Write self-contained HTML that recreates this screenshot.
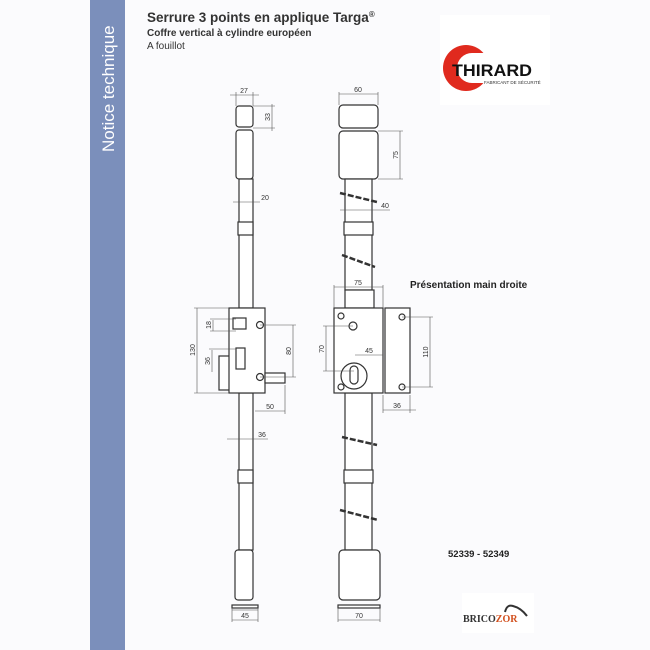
<!DOCTYPE html>
<html><head><meta charset="utf-8"><style>
html,body{margin:0;padding:0;background:#fbfbfd;}
body{width:650px;height:650px;overflow:hidden;position:relative;font-family:"Liberation Sans",sans-serif;}
</style></head><body>
<svg width="650" height="650" viewBox="0 0 650 650" xmlns="http://www.w3.org/2000/svg" style="position:absolute;left:0;top:0">
<rect x="0" y="0" width="650" height="650" fill="#fbfbfd"/>
<rect x="90" y="0" width="35" height="650" fill="#7b8fbb"/>
<text transform="translate(114,152) rotate(-90)" font-size="17" fill="#fff" font-family="Liberation Sans,sans-serif">Notice technique</text>
<text x="147" y="22" font-size="13.5" font-weight="bold" fill="#333">Serrure 3 points en applique Targa<tspan font-size="8" dy="-5">®</tspan></text>
<text x="147" y="36" font-size="10" font-weight="bold" fill="#333">Coffre vertical à cylindre européen</text>
<text x="147" y="49" font-size="10" fill="#333">A fouillot</text>
<!-- Thirard logo -->
<rect x="440" y="15" width="110" height="90" fill="#fff"/>
<circle cx="466" cy="68" r="23" fill="#e02a1e"/>
<circle cx="472" cy="68" r="15" fill="#fff"/>
<rect x="472" y="53" width="60" height="30" fill="#fff"/>
<text x="452" y="76" font-size="17" font-weight="bold" fill="#111" textLength="80" lengthAdjust="spacingAndGlyphs">THIRARD</text>
<text x="484" y="84" font-size="4.5" fill="#333">FABRICANT DE SÉCURITÉ</text>
<text x="410" y="288" font-size="10" font-weight="bold" fill="#222">Présentation main droite</text>
<text x="448" y="557" font-size="9.5" font-weight="bold" fill="#222">52339 - 52349</text>
<rect x="462" y="593" width="72" height="40" fill="#fff"/>
<text x="463" y="622" font-size="10" font-weight="bold" fill="#333" font-family="Liberation Serif,serif">BRICO<tspan fill="#d2501e">ZOR</tspan></text>
<path d="M505 612 q2-8 8-6 q8 2 14 10" stroke="#333" stroke-width="2" fill="none"/>

<g stroke="#333" stroke-width="1.2" fill="#fff">
<!-- LEFT VIEW -->
<rect x="236" y="106" width="17" height="21" rx="3"/>
<rect x="236" y="130" width="17" height="49" rx="3"/>
<rect x="239" y="179" width="14" height="129"/>
<rect x="238" y="222" width="15" height="13"/>
<rect x="239" y="393" width="14" height="157"/>
<rect x="238" y="470" width="15" height="13"/>
<rect x="235" y="550" width="18" height="50" rx="3"/>
<rect x="232" y="605" width="26" height="3"/>
<rect x="219" y="356" width="12" height="34"/>
<rect x="229" y="308" width="36" height="85"/>
<rect x="233" y="318" width="13" height="11"/>
<rect x="236" y="348" width="9" height="21"/>
<rect x="265" y="373" width="20" height="10"/>
<circle cx="260" cy="325" r="3.5"/><circle cx="260" cy="377" r="3.5"/>
<!-- RIGHT VIEW -->
<rect x="339" y="105" width="39" height="23" rx="4"/>
<rect x="339" y="131" width="39" height="48" rx="4"/>
<rect x="345" y="179" width="27" height="111"/>
<rect x="344" y="222" width="29" height="13"/>
<rect x="345" y="290" width="29" height="18"/>
<rect x="345" y="393" width="27" height="157"/>
<rect x="344" y="470" width="29" height="13"/>
<rect x="339" y="550" width="41" height="50" rx="4"/>
<rect x="338" y="605" width="42" height="3"/>
<rect x="334" y="308" width="49" height="85"/>
<rect x="385" y="308" width="25" height="85"/>
<circle cx="341" cy="316" r="3"/><circle cx="341" cy="387" r="3"/>
<circle cx="402" cy="317" r="3"/><circle cx="402" cy="387" r="3"/>
<circle cx="353" cy="326" r="4"/>
<circle cx="354" cy="376" r="13"/>
<rect x="350" y="366" width="8" height="18" rx="4"/>
</g>
<g stroke="#333" stroke-width="2.5" stroke-dasharray="6 2">
<line x1="340" y1="193" x2="377" y2="202"/>
<line x1="342" y1="255" x2="375" y2="267"/>
<line x1="342" y1="437" x2="377" y2="445"/>
<line x1="340" y1="510" x2="378" y2="520"/>
</g>
<!-- dimension lines -->
<g stroke="#555" stroke-width="0.6" fill="none">
<line x1="230" y1="95" x2="259" y2="95"/><line x1="236" y1="92" x2="236" y2="106"/><line x1="253" y1="92" x2="253" y2="106"/>
<line x1="272" y1="104" x2="272" y2="131"/><line x1="253" y1="106" x2="275" y2="106"/><line x1="253" y1="128" x2="275" y2="128"/>
<line x1="233" y1="202" x2="260" y2="202"/>
<line x1="339" y1="94" x2="378" y2="94"/><line x1="339" y1="92" x2="339" y2="105"/><line x1="378" y1="92" x2="378" y2="105"/>
<line x1="400" y1="131" x2="400" y2="179"/><line x1="378" y1="131" x2="403" y2="131"/><line x1="378" y1="179" x2="403" y2="179"/>
<line x1="340" y1="210" x2="390" y2="210"/>
<line x1="334" y1="287" x2="383" y2="287"/><line x1="334" y1="285" x2="334" y2="308"/><line x1="383" y1="285" x2="383" y2="308"/>
<line x1="197" y1="308" x2="197" y2="393"/><line x1="194" y1="308" x2="229" y2="308"/><line x1="194" y1="393" x2="229" y2="393"/>
<line x1="213" y1="320" x2="213" y2="331"/><line x1="210" y1="319" x2="236" y2="319"/><line x1="210" y1="331" x2="236" y2="331"/>
<line x1="212" y1="350" x2="212" y2="372"/><line x1="209" y1="349" x2="236" y2="349"/>
<line x1="293" y1="325" x2="293" y2="377"/><line x1="260" y1="325" x2="296" y2="325"/><line x1="260" y1="377" x2="296" y2="377"/>
<line x1="255" y1="411" x2="285" y2="411"/><line x1="285" y1="385" x2="285" y2="414"/>
<line x1="227" y1="439" x2="268" y2="439"/>
<line x1="326" y1="326" x2="326" y2="371"/><line x1="323" y1="326" x2="353" y2="326"/><line x1="323" y1="371" x2="354" y2="371"/>
<line x1="355" y1="355" x2="383" y2="355"/>
<line x1="430" y1="317" x2="430" y2="387"/><line x1="402" y1="317" x2="433" y2="317"/><line x1="402" y1="387" x2="433" y2="387"/>
<line x1="383" y1="410" x2="416" y2="410"/><line x1="383" y1="395" x2="383" y2="413"/><line x1="410" y1="395" x2="410" y2="413"/>
<line x1="232" y1="620" x2="258" y2="620"/><line x1="232" y1="610" x2="258" y2="610"/><line x1="232" y1="608" x2="232" y2="622"/><line x1="258" y1="608" x2="258" y2="622"/>
<line x1="338" y1="620" x2="380" y2="620"/><line x1="338" y1="608" x2="338" y2="622"/><line x1="380" y1="608" x2="380" y2="622"/>
</g>
<g font-size="7" fill="#333" text-anchor="middle">
<text x="244" y="93">27</text>
<text x="270" y="117" transform="rotate(-90 270 117)">33</text>
<text x="265" y="200">20</text>
<text x="358" y="92">60</text>
<text x="398" y="155" transform="rotate(-90 398 155)">75</text>
<text x="385" y="208">40</text>
<text x="358" y="285">75</text>
<text x="195" y="350" transform="rotate(-90 195 350)">130</text>
<text x="211" y="325" transform="rotate(-90 211 325)">18</text>
<text x="210" y="361" transform="rotate(-90 210 361)">36</text>
<text x="291" y="351" transform="rotate(-90 291 351)">80</text>
<text x="270" y="409">50</text>
<text x="262" y="437">36</text>
<text x="324" y="349" transform="rotate(-90 324 349)">70</text>
<text x="369" y="353">45</text>
<text x="428" y="352" transform="rotate(-90 428 352)">110</text>
<text x="397" y="408">36</text>
<text x="245" y="618">45</text>
<text x="359" y="618">70</text>
</g>
</svg>
</body></html>
